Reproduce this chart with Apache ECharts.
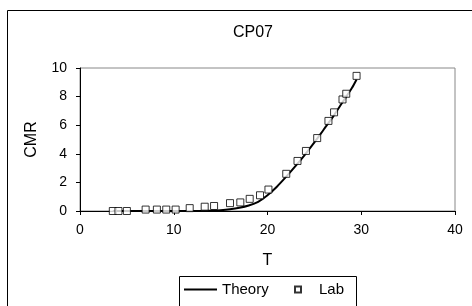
<!DOCTYPE html>
<html>
<head>
<meta charset="utf-8">
<script src="https://cdn.jsdelivr.net/npm/echarts@6/dist/echarts.min.js"></script>
<style>
  html, body { margin: 0; padding: 0; background: #fff; }
  #chart { width: 472px; height: 306px; }
</style>
</head>
<body>
<div id="chart"></div>
<script>
// lab measurements
const labT = [3.5, 4.1, 5.0, 7.0, 8.2, 9.2, 10.2, 11.7, 13.3, 14.3, 16.0, 17.1, 18.1, 19.2, 20.1, 22.0, 23.2, 24.1, 25.3, 26.5, 27.1, 28.0, 28.4, 29.5];
const labCMR = [0.0, 0.0, 0.0, 0.1, 0.1, 0.1, 0.1, 0.2, 0.3, 0.35, 0.55, 0.6, 0.85, 1.1, 1.5, 2.6, 3.5, 4.2, 5.1, 6.3, 6.9, 7.8, 8.2, 9.45];

// theory curve
const theoryT = [3.5, 6, 8, 10, 12, 13, 14, 15, 16, 17, 18, 19, 20, 21, 22, 23, 24, 25, 26, 27, 28, 29, 29.5];
const theoryCMR = [0, 0, 0, 0, 0, 0.01, 0.03, 0.06, 0.12, 0.22, 0.38, 0.64, 1.1, 1.7, 2.4, 3.15, 3.95, 4.8, 5.7, 6.6, 7.6, 8.6, 9.2];

const xTicks = [0, 10, 20, 30, 40];
const yTicks = [0, 2, 4, 6, 8, 10];

const font = "Liberation Sans, Arial, sans-serif";
const chart = echarts.init(document.getElementById("chart"));

chart.setOption({
  animation: false,
  title: {
    text: "CP07",
    left: 248,
    top: 20,
    textAlign: "center",
    textStyle: { fontFamily: font, fontSize: 16, fontWeight: "normal", color: "#000" },
  },
  grid: {
    left: 80,
    right: 17,
    top: 68,
    bottom: 95,
    show: true,
    borderColor: "#888",
    borderWidth: 1,
  },
  xAxis: {
    type: "value",
    min: xTicks[0],
    max: xTicks[xTicks.length - 1],
    interval: 10,
    name: "T",
    nameLocation: "middle",
    nameGap: 42,
    nameTextStyle: { fontFamily: font, fontSize: 16, color: "#000" },
    axisLine: { lineStyle: { color: "#000", width: 1 } },
    axisTick: { length: 4, lineStyle: { color: "#000" } },
    axisLabel: { margin: 12, fontFamily: font, fontSize: 14, color: "#000" },
    splitLine: { show: false },
  },
  yAxis: {
    type: "value",
    min: yTicks[0],
    max: yTicks[yTicks.length - 1],
    interval: 2,
    name: "CMR",
    nameLocation: "middle",
    nameGap: 40,
    nameRotate: 90,
    nameTextStyle: { fontFamily: font, fontSize: 16, color: "#000" },
    axisLine: { show: true, lineStyle: { color: "#000", width: 1 } },
    axisTick: { show: true, length: 4, lineStyle: { color: "#000" } },
    axisLabel: { margin: 13, fontFamily: font, fontSize: 14, color: "#000" },
    splitLine: { show: false },
  },
  legend: [
    {
      data: [{ name: "Theory", icon: "rect" }],
      left: 184,
      top: 282,
      itemWidth: 33,
      itemHeight: 2,
      padding: 0,
      textStyle: { fontFamily: font, fontSize: 15, color: "#000" },
    },
    {
      data: [{ name: "Lab", icon: "rect" }],
      left: 294,
      top: 282,
      itemWidth: 6,
      itemHeight: 6,
      itemGap: 0,
      padding: 0,
      textStyle: { fontFamily: font, fontSize: 15, color: "#000", padding: [0, 0, 0, 13] },
    },
  ],
  graphic: [
    {
      type: "rect",
      shape: { x: 7.5, y: 10.5, width: 600, height: 400 },
      style: { fill: "none", stroke: "#000", lineWidth: 1 },
      silent: true,
    },
    {
      type: "rect",
      shape: { x: 179.5, y: 276.5, width: 177, height: 40 },
      style: { fill: "none", stroke: "#000", lineWidth: 1 },
      silent: true,
    },
  ],
  series: [
    {
      name: "Theory",
      type: "line",
      data: theoryT.map((t, i) => [t, theoryCMR[i]]),
      smooth: 0.3,
      showSymbol: false,
      symbol: "none",
      lineStyle: { color: "#000", width: 2 },
      itemStyle: { color: "#000" },
      z: 2,
    },
    {
      name: "Lab",
      type: "scatter",
      data: labT.map((t, i) => [t, labCMR[i]]),
      symbol: "rect",
      symbolSize: 7,
      itemStyle: { color: "#fff", borderColor: "#000", borderWidth: 1 },
      z: 3,
    },
  ],
});
</script>
</body>
</html>
